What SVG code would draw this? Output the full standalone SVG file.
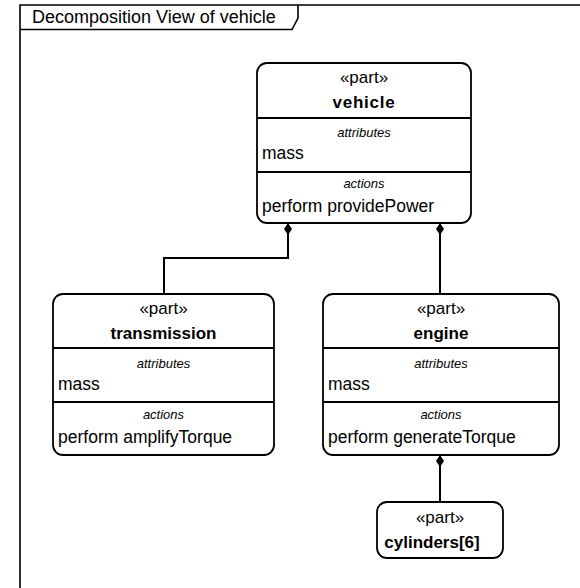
<svg xmlns="http://www.w3.org/2000/svg" width="580" height="588" viewBox="0 0 580 588">
  <style>
    text { font-family: "Liberation Sans", Arial, sans-serif; fill: #000; }
    .frame { fill: none; stroke: #000; stroke-width: 1.6; }
    .box { fill: #fff; stroke: #000; stroke-width: 1.8; }
    .sep { stroke: #000; stroke-width: 1.8; }
    .edge { fill: none; stroke: #000; stroke-width: 2; }
    .stereo { font-size: 17px; text-anchor: middle; }
    .name { font-size: 17px; font-weight: bold; text-anchor: middle; }
    .comp { font-size: 13px; font-style: italic; text-anchor: middle; }
    .item { font-size: 17.5px; }
    .title { font-size: 18px; }
  </style>
  <defs>
    <marker id="composite" viewBox="0 0 12 8" refX="0" refY="4" markerWidth="12" markerHeight="8" markerUnits="userSpaceOnUse" orient="auto">
      <path d="M0,4 L6,0 L12,4 L6,8 Z" fill="#000"/>
    </marker>
  </defs>

  <rect width="580" height="588" fill="#fff"/>

  <!-- diagram frame with name tab -->
  <g id="frame">
    <path class="frame" d="M20,600 L20,5 L590,5"/>
    <path class="frame" d="M20,29.5 L292,29.5 L298,18 L298,5"/>
    <text class="title" x="32" y="23">Decomposition View of vehicle</text>
  </g>

  <!-- composition connectors -->
  <g id="connectors">
    <path class="edge" d="M288,223 L288,258 L164,258 L164,294" marker-start="url(#composite)"/>
    <path class="edge" d="M440,223 L440,294" marker-start="url(#composite)"/>
    <path class="edge" d="M440,455 L440,502" marker-start="url(#composite)"/>
  </g>

  <g id="vehicle">
    <rect class="box" x="257" y="63" width="214" height="160" rx="10"/>
    <line class="sep" x1="257" y1="118" x2="471" y2="118"/>
    <line class="sep" x1="257" y1="172" x2="471" y2="172"/>
    <text class="stereo" x="364" y="83">«part»</text>
    <text class="name" x="364" y="108" letter-spacing="0.8">vehicle</text>
    <text class="comp" x="364" y="137">attributes</text>
    <text class="item" x="262" y="159">mass</text>
    <text class="comp" x="364" y="188">actions</text>
    <text class="item" x="262" y="212">perform providePower</text>
  </g>

  <g id="transmission">
    <rect class="box" x="53" y="294" width="221" height="161" rx="10"/>
    <line class="sep" x1="53" y1="348" x2="274" y2="348"/>
    <line class="sep" x1="53" y1="402" x2="274" y2="402"/>
    <text class="stereo" x="163.5" y="314">«part»</text>
    <text class="name" x="163.5" y="339">transmission</text>
    <text class="comp" x="163.5" y="368">attributes</text>
    <text class="item" x="58" y="390">mass</text>
    <text class="comp" x="163.5" y="419">actions</text>
    <text class="item" x="58" y="443">perform amplifyTorque</text>
  </g>

  <g id="engine">
    <rect class="box" x="323" y="294" width="236" height="161" rx="10"/>
    <line class="sep" x1="323" y1="348" x2="559" y2="348"/>
    <line class="sep" x1="323" y1="402" x2="559" y2="402"/>
    <text class="stereo" x="441" y="314">«part»</text>
    <text class="name" x="441" y="339">engine</text>
    <text class="comp" x="441" y="368">attributes</text>
    <text class="item" x="328" y="390">mass</text>
    <text class="comp" x="441" y="419">actions</text>
    <text class="item" x="328" y="443">perform generateTorque</text>
  </g>

  <g id="cylinders">
    <rect class="box" x="377" y="502" width="126" height="56" rx="10"/>
    <text class="stereo" x="440" y="523">«part»</text>
    <text class="name" x="432" y="548">cylinders[6]</text>
  </g>
</svg>
